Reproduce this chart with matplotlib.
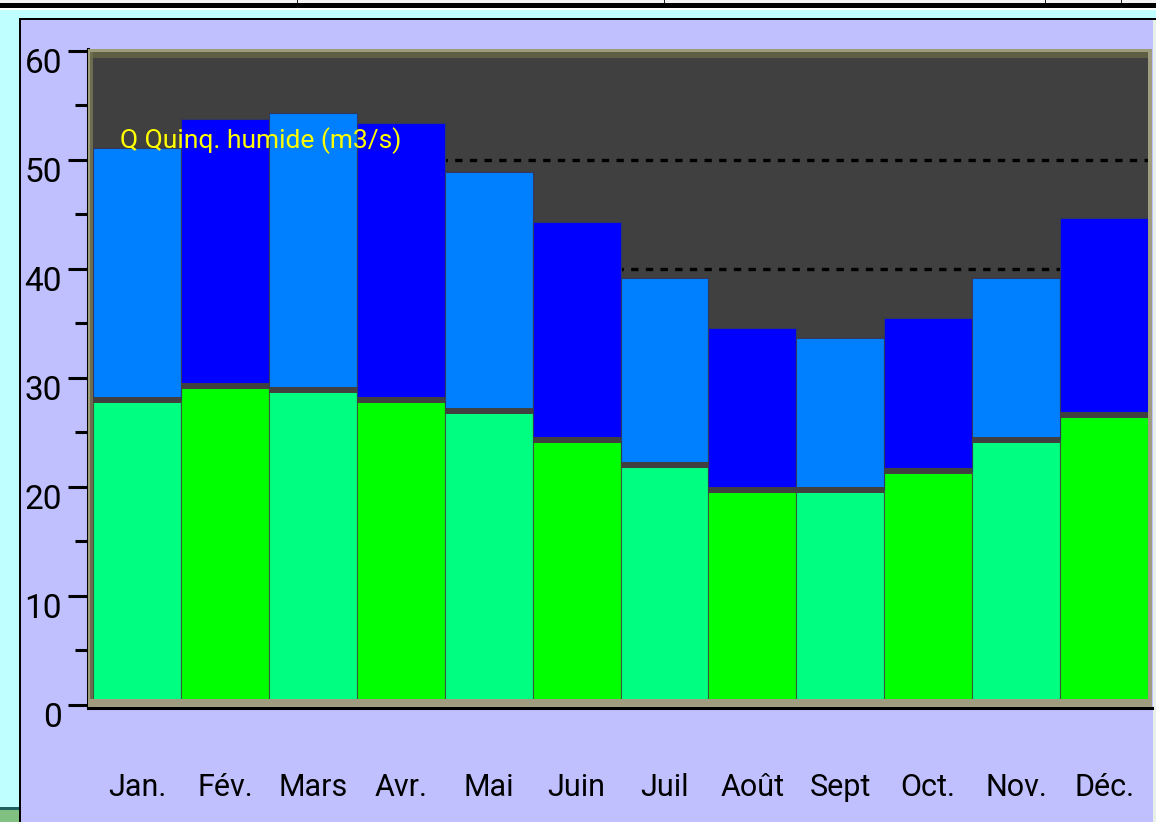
"""Monthly flows: stacked bars of the wet five-year discharge (m3/s)."""

import numpy as np
from matplotlib import pyplot as plt
from matplotlib.patches import Rectangle
from matplotlib.ticker import MultipleLocator
from matplotlib.transforms import ScaledTranslation

months = ["Jan.", "Fév.", "Mars", "Avr.", "Mai", "Juin",
          "Juil", "Août", "Sept", "Oct.", "Nov.", "Déc."]
q_low = [28.0, 29.3, 28.9, 28.0, 27.0, 24.3, 22.0, 19.7, 19.7, 21.5, 24.3, 26.6]
q_high = [51.1, 53.8, 54.3, 53.4, 48.9, 44.3, 39.2, 34.6, 33.7, 35.5, 39.2, 44.7]
title = "Q Quinq. humide (m3/s)"

W, H = 1156, 822
FONT = ["Roboto", "Liberation Sans", "DejaVu Sans"]
LAVENDER = "#C0C0FF"
DARK = "#404040"
GREENS = ["#00FF80", "#00FF00"]
BLUES = ["#0080FF", "#0000FF"]


def px(x0, y0, x1, y1):
    """Pixel box (top-left origin) -> figure fraction rect."""
    return [x0 / W, 1 - y1 / H, (x1 - x0) / W, (y1 - y0) / H]


def band(fig, x0, y0, x1, y1, color, zorder=3):
    l, b, w, h = px(x0, y0, x1, y1)
    fig.add_artist(Rectangle((l, b), w, h, transform=fig.transFigure,
                             facecolor=color, edgecolor="none", zorder=zorder))


def main():
    plt.rcParams["font.family"] = FONT
    fig = plt.figure(figsize=(W / 100, H / 100), dpi=100, facecolor=LAVENDER)

    # window decorations around the chart panel
    band(fig, 0, 0, W, 3, "#F4F4F4", zorder=-1)
    for xv in (297, 664, 1045, 1121):
        band(fig, xv, 0, xv + 1, 3, "#202020", zorder=-1)
    band(fig, 0, 3, W, 8, "black", zorder=-1)
    band(fig, 0, 8, W, 10, "white", zorder=-1)
    band(fig, 0, 10, W, 19, "#C0FFFF", zorder=-1)
    band(fig, 0, 10, 19, H, "#C0FFFF", zorder=-1)
    band(fig, 19, 18, W, 20, "black", zorder=-1)
    band(fig, 19, 18, 21, H, "black", zorder=-1)
    band(fig, 0, 807, 19, 810, "#206060", zorder=-1)
    band(fig, 0, 810, 19, H, "#80C080", zorder=-1)
    band(fig, 1153, 20, W, H, "#E8F0E8", zorder=-1)

    ax = fig.add_axes(px(88, 49, 1152, 708))
    ax.set_facecolor(DARK)

    x = np.arange(len(months))
    ax.bar(x, q_low, width=1.0, color=[GREENS[i % 2] for i in x],
           edgecolor="#3A5A3A", linewidth=0.8, zorder=2)
    ax.bar(x, np.subtract(q_high, q_low), bottom=q_low, width=1.0,
           color=[BLUES[i % 2] for i in x],
           edgecolor="#303860", linewidth=0.8, zorder=2)
    ax.hlines(q_low, x - 0.5, x + 0.5, color=DARK, linewidth=4.3, zorder=3)

    ax.set_xlim(-0.557, 11.545)
    ax.set_ylim(-0.28, 60.18)

    ax.yaxis.set_major_locator(MultipleLocator(10))
    ax.yaxis.set_minor_locator(MultipleLocator(10, offset=5))
    ax.tick_params(axis="y", which="major", length=14.4, width=2.2,
                   pad=4.3, labelsize=24, color="black")
    ax.tick_params(axis="y", which="minor", length=9.4, width=2.2,
                   color="black")
    ax.set_yticks(range(0, 61, 10))
    shift = ScaledTranslation(0, -0.1, fig.dpi_scale_trans)
    for lab in ax.get_yticklabels():
        lab.set_transform(lab.get_transform() + shift)

    ax.set_xticks(x, labels=months)
    ax.tick_params(axis="x", length=0, pad=57, labelsize=22)
    for lab in ax.get_xticklabels():
        lab.set_verticalalignment("center")

    for side in ("top", "right"):
        ax.spines[side].set_visible(False)
    for side in ("left", "bottom"):
        ax.spines[side].set_color("black")
        ax.spines[side].set_linewidth(2.2)
        ax.spines[side].set_zorder(4)

    ax.set_axisbelow(True)
    ax.grid(axis="y", which="major", color="black", linewidth=2.4,
            linestyle=(0, (2.2, 2.2)))

    ax.text(0.030, 0.850, title, transform=ax.transAxes, color="#FFFF00",
            fontsize=19, va="baseline", ha="left", zorder=6)

    # khaki bevelled frame drawn over the plot edges
    band(fig, 88, 49, 1152, 52, "#9C9C78")
    band(fig, 90, 52, 1152, 58, "#5E5E44")
    band(fig, 88, 49, 90, 707, "#9C9C78")
    band(fig, 90, 52, 93, 700, "#6E6C50")
    band(fig, 88, 699, 1152, 707, "#A09C80")
    band(fig, 1148, 52, 1152, 707, "#A09C80")

    fig.savefig("out.png", dpi=100, facecolor=LAVENDER)


if __name__ == "__main__":
    main()
